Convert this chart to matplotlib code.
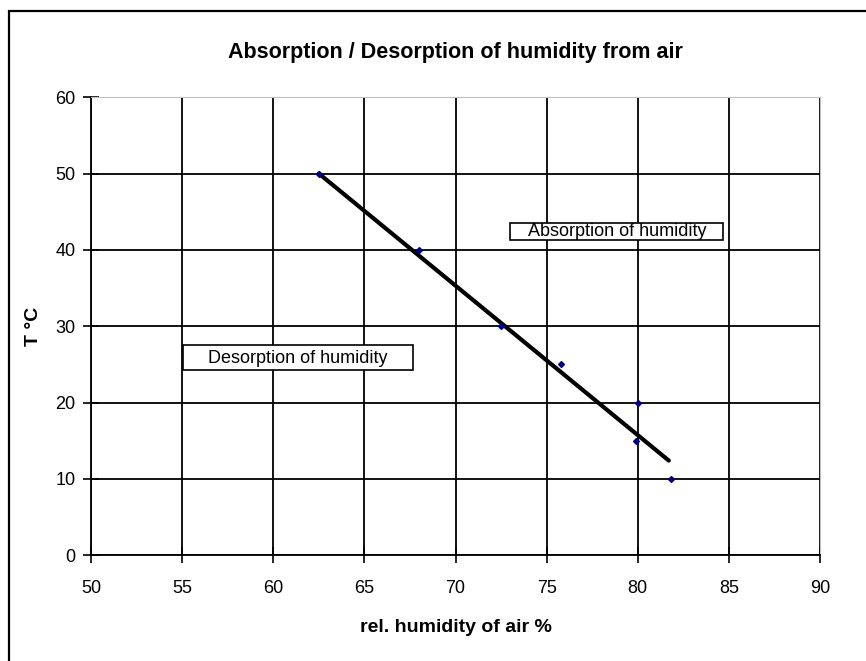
import matplotlib.pyplot as plt
from matplotlib.patches import Rectangle

plt.rcParams['font.family'] = ['Liberation Sans', 'DejaVu Sans']

# measured points (rel. humidity %, T °C)
humidity = [62.5, 68.0, 72.5, 75.8, 80.0, 79.9, 81.8]
temp = [50, 40, 30, 25, 20, 15, 10]

# drawn boundary line
line_x = [62.5, 81.7]
line_y = [50, 12.4]

xticks = [50, 55, 60, 65, 70, 75, 80, 85, 90]
yticks = [0, 10, 20, 30, 40, 50, 60]

fig = plt.figure(figsize=(8.66, 6.61), dpi=100)
ax = fig.add_axes([0.105, 0.160, 0.842, 0.693])

# outer chart frame
fig.patches.append(Rectangle((9 / 866, -0.05), 1.2, 1 - 11 / 661 + 0.05,
                             transform=fig.transFigure, fill=False,
                             edgecolor='black', lw=1.6))

ax.set_xlim(50, 90)
ax.set_ylim(0, 60)
ax.set_xticks(xticks)
ax.set_yticks(yticks)
ax.grid(True, color='black', lw=1.3)
ax.set_axisbelow(True)
ax.tick_params(labelsize=13, length=12, width=1.2, direction='inout')
ax.tick_params(axis='x', pad=12)
ax.tick_params(axis='y', pad=5)
for s in ['top', 'right']:
    ax.spines[s].set_color('#c0c0c0')
for s in ['left', 'bottom']:
    ax.spines[s].set_linewidth(1.3)

ax.plot(line_x, line_y, color='black', lw=3, solid_capstyle='round', zorder=3)
ax.plot(humidity, temp, ls='none', marker='D', ms=3, color='#000080', zorder=4)

# text boxes
ax.add_patch(Rectangle((55.05, 24.2), 12.6, 3.4, fill=True, facecolor='white',
                       edgecolor='black', lw=1.2, zorder=5))
ax.text(61.35, 25.8, 'Desorption of humidity', ha='center', va='center',
        fontsize=13, zorder=6)
ax.add_patch(Rectangle((73.0, 41.3), 11.7, 2.2, fill=True, facecolor='white',
                       edgecolor='black', lw=1.2, zorder=5))
ax.text(78.85, 42.4, 'Absorption of humidity', ha='center', va='center',
        fontsize=13, zorder=6)

ax.set_title('Absorption / Desorption of humidity from air', fontsize=15.5,
             fontweight='bold', pad=28)
ax.set_xlabel('rel. humidity of air %', fontsize=14, fontweight='bold', labelpad=16)
ax.set_ylabel('T °C', fontsize=14, fontweight='bold', labelpad=10)

fig.savefig('out.png', dpi=100)
